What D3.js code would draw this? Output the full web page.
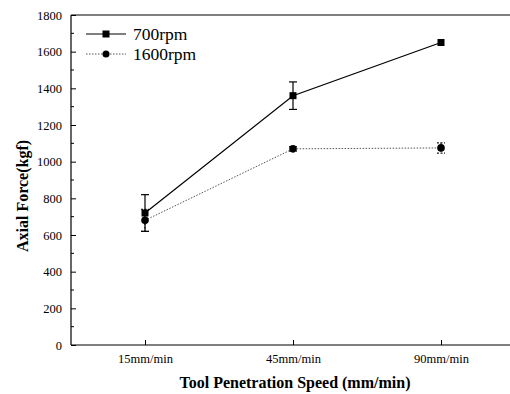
<!DOCTYPE html>
<html>
<head>
<meta charset="utf-8">
<script src="https://cdnjs.cloudflare.com/ajax/libs/d3/7.8.5/d3.min.js"></script>
<style>
  body { margin: 0; background: #fff; }
  svg { display: block; font-family: "Liberation Serif", "Times New Roman", serif; }
</style>
</head>
<body>
<script>
var categories = ["15mm/min", "45mm/min", "90mm/min"];
var rpm700 = [720, 1360, 1650];
var rpm700Err = [100, 75, 0];
var rpm1600 = [680, 1070, 1075];
var rpm1600Err = [60, 12, 28];
var yTicks = [0, 200, 400, 600, 800, 1000, 1200, 1400, 1600, 1800];
var seriesNames = ["700rpm", "1600rpm"];

var W = 510, H = 394;
var serif = "Liberation Serif";
var svg = d3.select("body").append("svg").attr("width", W).attr("height", H);

var x = d3.scaleLinear().domain([-0.5, 2.5]).range([71, 515]);
var y = d3.scaleLinear().domain([0, 1800]).range([345, 15]);

// frame: left axis, bottom axis, top border
svg.append("line").attr("x1", 71).attr("x2", 71).attr("y1", 15).attr("y2", 345)
  .attr("stroke", "#000").attr("stroke-width", 1.2);
svg.append("line").attr("x1", 71).attr("x2", W).attr("y1", 345).attr("y2", 345)
  .attr("stroke", "#000").attr("stroke-width", 1.2);
svg.append("line").attr("x1", 71).attr("x2", W).attr("y1", 15).attr("y2", 15)
  .attr("stroke", "#000").attr("stroke-width", 1.2);

// y axis, ticks inward
var yAxis = d3.axisLeft(y).tickValues(yTicks).tickSize(-5).tickPadding(9).tickFormat(d3.format("d"));
var gy = svg.append("g").attr("transform", "translate(71,0)").call(yAxis);
gy.select(".domain").remove();
gy.attr("font-family", serif);
gy.selectAll("text").attr("font-size", 12.5);
var minor = d3.range(100, 1800, 200);
svg.selectAll("line.minor").data(minor).enter().append("line").attr("class", "minor")
  .attr("x1", 71).attr("x2", 74).attr("y1", function(d) { return y(d); }).attr("y2", function(d) { return y(d); })
  .attr("stroke", "#000");

// x axis
var xAxis = d3.axisBottom(x).tickValues([0, 1, 2]).tickSize(-5).tickPadding(9)
  .tickFormat(function(d) { return categories[d]; });
var gx = svg.append("g").attr("transform", "translate(0,345)").call(xAxis);
gx.select(".domain").remove();
gx.attr("font-family", serif);
gx.selectAll("text").attr("font-size", 12.5);

// axis titles
svg.append("text").attr("x", 295).attr("y", 388).attr("text-anchor", "middle")
  .attr("font-size", 16).attr("font-weight", "bold").text("Tool Penetration Speed (mm/min)");
svg.append("text").attr("transform", "translate(28,196) rotate(-90)").attr("text-anchor", "middle")
  .attr("font-size", 16).attr("font-weight", "bold").text("Axial Force(kgf)");

var line = d3.line().x(function(d, i) { return x(i); }).y(function(d) { return y(d); });

function errorBars(vals, errs, dash, color) {
  var g = svg.append("g").attr("stroke", color).attr("stroke-width", 1.2).attr("stroke-dasharray", dash);
  vals.forEach(function(v, i) {
    if (!errs[i]) return;
    var cx = x(i);
    g.append("line").attr("x1", cx).attr("x2", cx).attr("y1", y(v + errs[i])).attr("y2", y(v - errs[i]));
    g.append("line").attr("x1", cx - 4).attr("x2", cx + 4).attr("y1", y(v + errs[i])).attr("y2", y(v + errs[i]))
      .attr("stroke-dasharray", null);
    g.append("line").attr("x1", cx - 4).attr("x2", cx + 4).attr("y1", y(v - errs[i])).attr("y2", y(v - errs[i]))
      .attr("stroke-dasharray", null);
  });
}

errorBars(rpm1600, rpm1600Err, "2,1.5", "#222");
errorBars(rpm700, rpm700Err, null, "#000");

svg.append("path").datum(rpm1600).attr("d", line).attr("fill", "none")
  .attr("stroke", "#555").attr("stroke-width", 1).attr("stroke-dasharray", "1.5,1.5");
svg.append("path").datum(rpm700).attr("d", line).attr("fill", "none")
  .attr("stroke", "#000").attr("stroke-width", 1.2);

svg.selectAll("rect.m700").data(rpm700).enter().append("rect").attr("class", "m700")
  .attr("x", function(d, i) { return x(i) - 3.5; }).attr("y", function(d) { return y(d) - 3.5; })
  .attr("width", 7).attr("height", 7).attr("fill", "#000");
svg.selectAll("circle.m1600").data(rpm1600).enter().append("circle").attr("class", "m1600")
  .attr("cx", function(d, i) { return x(i); }).attr("cy", function(d) { return y(d); })
  .attr("r", 3.8).attr("fill", "#000");

// legend
var leg = svg.append("g");
leg.append("line").attr("x1", 86).attr("x2", 126).attr("y1", 34).attr("y2", 34)
  .attr("stroke", "#000").attr("stroke-width", 1.2);
leg.append("rect").attr("x", 102.5).attr("y", 30.5).attr("width", 7).attr("height", 7).attr("fill", "#000");
leg.append("line").attr("x1", 86).attr("x2", 126).attr("y1", 54).attr("y2", 54)
  .attr("stroke", "#555").attr("stroke-dasharray", "1.5,1.5");
leg.append("circle").attr("cx", 106).attr("cy", 54).attr("r", 3.5).attr("fill", "#000");
leg.selectAll("text").data(seriesNames).enter().append("text")
  .attr("x", 133).attr("y", function(d, i) { return 40 + i * 20; })
  .attr("font-size", 17.5).text(function(d) { return d; });
</script>
</body>
</html>
